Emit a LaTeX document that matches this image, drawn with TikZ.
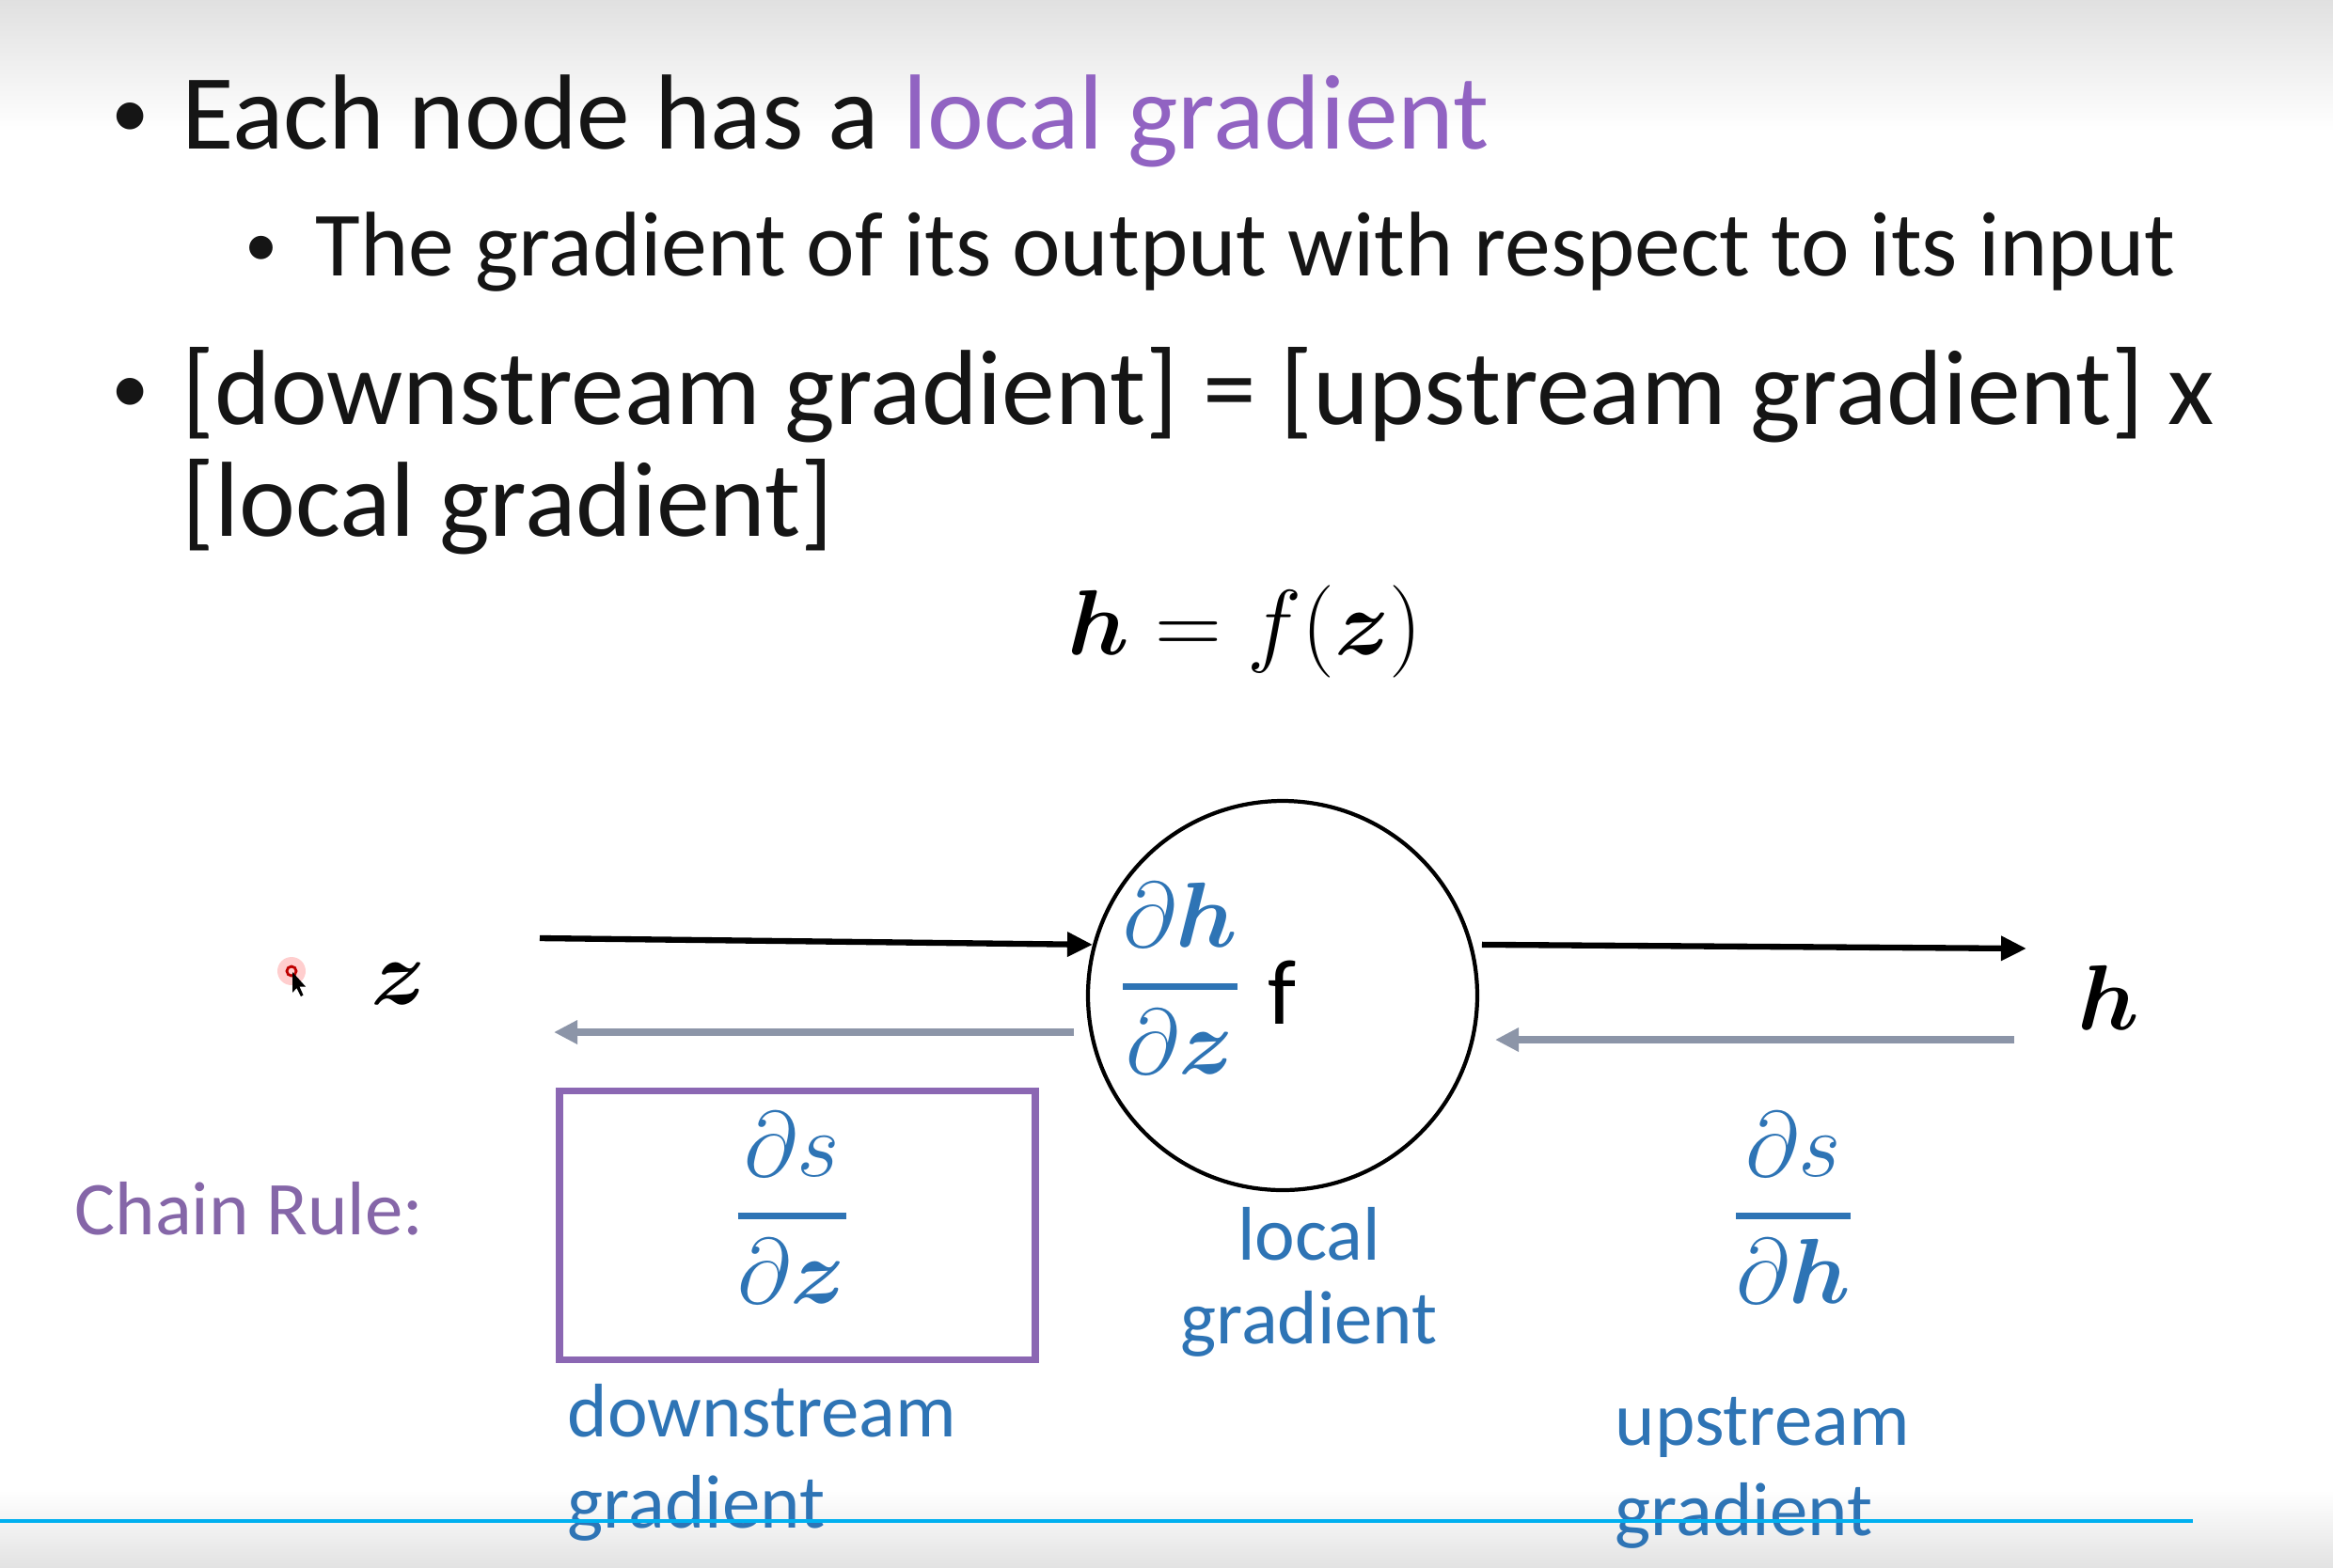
\RequirePackage{fix-cm}
\documentclass[tikz,border=0pt]{standalone}
\usepackage{amsmath,bm}
\usepackage{fontspec}
\setmainfont{Carlito}
\usetikzlibrary{arrows.meta}
\definecolor{txtblue}{HTML}{2E74B5}
\definecolor{titlepurple}{HTML}{9163C2}
\definecolor{chainpurple}{HTML}{8566A8}
\definecolor{boxpurple}{HTML}{8B67B3}
\definecolor{backgray}{HTML}{8C95A8}
\definecolor{textblack}{HTML}{151515}
\definecolor{linecyan}{HTML}{00B0F0}
\tikzset{
  bigtext/.style={anchor=base west, inner sep=0, text=textblack, font=\fontsize{32.3}{38}\selectfont},
  subtext/.style={anchor=base west, inner sep=0, text=textblack, font=\fontsize{27.8}{33}\selectfont},
  bulletdot/.style={anchor=base, inner sep=0, text=textblack},
  label23/.style={inner sep=0, text=txtblue, font=\fontsize{23}{27.6}\selectfont},
  mathlbl/.style={inner sep=0, font=\fontsize{28}{34}\selectfont},
  fwd/.style={line width=1.8pt, -{Triangle[length=0.27cm, width=0.25cm]}},
  back/.style={draw=backgray, line width=2.4pt, -{Triangle[length=0.25cm, width=0.24cm]}},
  fnode/.style={circle, draw, line width=1.2pt, minimum size=4.14cm, inner sep=0},
}
\newcommand{\pfrac}[2]{\genfrac{}{}{2pt}{0}{#1}{#2}}
\begin{document}
\begin{tikzpicture}[x=1cm, y=-1cm]
\useasboundingbox (0,0) rectangle (24.81,16.67);
\fill[white] (0,0) rectangle (24.81,16.67);
\shade[top color=black!12, bottom color=white] (0,0) rectangle (24.81,1.4);
\shade[top color=white, bottom color=black!11] (0,15.85) rectangle (24.81,16.67);

% bullets
\node[bulletdot, font=\fontsize{23}{28}\selectfont] (d1) at (1.39,1.46) {•};
\node[bigtext] (b1) at (1.93,1.58) {Each node has a \textcolor{titlepurple}{local gradient}};
\node[bulletdot, font=\fontsize{20}{24}\selectfont] (d2) at (2.78,2.83) {•};
\node[subtext] (b2) at (3.35,2.93) {The gradient of its output with respect to its input};
\node[bulletdot, font=\fontsize{23}{28}\selectfont] (d3) at (1.39,4.39) {•};
\node[bigtext] (b3) at (1.93,4.51) {[downstream gradient] = [upstream gradient] x};
\node[bigtext] (b4) at (1.93,5.70) {[local gradient]};

% equation
\node[mathlbl, anchor=base, font=\fontsize{28}{34}\selectfont] (eq) at (13.24,6.96) {$\bm{h} = f(\bm{z})$};

% graph
\node[fnode] (f) at (13.64,10.59) {};
\node[mathlbl, anchor=base] (z) at (4.24,10.68) {$\bm{z}$};
\node[mathlbl, anchor=base] (h) at (22.42,10.95) {$\bm{h}$};
\node[mathlbl, anchor=base, text=txtblue] (lg) at (12.55,10.74) {$\pfrac{\partial\bm{h}}{\partial\bm{z}}$};
\node[inner sep=0, anchor=base, text=black, font=\fontsize{28}{34}\selectfont] (fl) at (13.64,10.89) {f};

\coordinate (zout) at (5.74,9.98);
\coordinate (hin) at (21.55,10.09);
\coordinate (zback) at (5.89,10.98);
\coordinate (zbackstart) at (11.42,10.98);
\coordinate (hback) at (21.42,11.06);
\coordinate (hbackend) at (15.90,11.06);

\draw[fwd] (zout) -- (f.165);
\draw[fwd] ([xshift=0.1cm]f.15) -- (hin);
\draw[back] (zbackstart) -- (zback);
\draw[back] (hback) -- (hbackend);

% chain rule row
\node[inner sep=0, anchor=base west, text=chainpurple, font=\fontsize{23}{27.6}\selectfont] (cr) at (0.79,13.13) {Chain Rule:};
\node[draw=boxpurple, line width=2pt, minimum width=5.06cm, minimum height=2.86cm, inner sep=0] (box) at (8.48,13.03) {};
\node[mathlbl, anchor=base, text=txtblue] (dsdz) at (8.42,13.18) {$\pfrac{\partial s}{\partial\bm{z}}$};
\node[mathlbl, anchor=base, text=txtblue] (dsdh) at (19.07,13.18) {$\pfrac{\partial s}{\partial\bm{h}}$};
\node[label23, anchor=base, align=center, font=\fontsize{23}{25.3}\selectfont] (loc) at (13.92,14.29) {local\\gradient};
\node[label23, anchor=base west, align=left, font=\fontsize{23}{27.6}\selectfont] (down) at (6.03,16.25) {downstream\\gradient};
\node[label23, anchor=base west, align=left, font=\fontsize{23}{27.3}\selectfont] (up) at (17.17,16.33) {upstream\\gradient};

% bottom line
\draw[linecyan, line width=1.15pt] (0,16.18) -- (23.32,16.18);

% cursor
\fill[red!55, opacity=0.35] (3.10,10.33) circle (0.15);
\draw[red!75!black, line width=0.8pt] (3.10,10.33) circle (0.05);
\fill[black] (3.11,10.34) -- (3.11,10.56) -- (3.155,10.51) -- (3.20,10.60) -- (3.225,10.585) -- (3.185,10.495) -- (3.25,10.495) -- cycle;
\end{tikzpicture}
\end{document}
